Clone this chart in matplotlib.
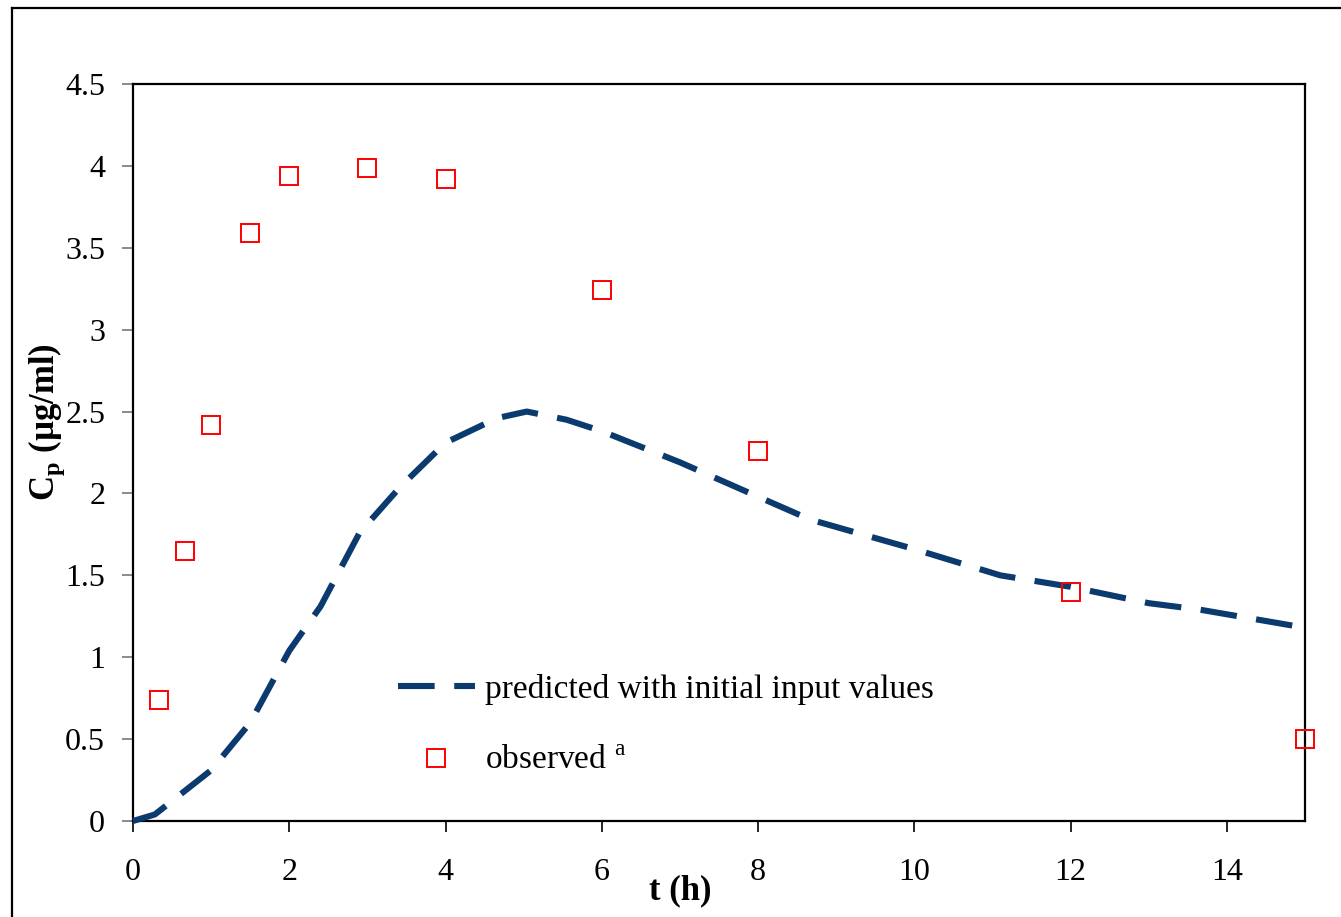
import matplotlib
matplotlib.use("Agg")
import matplotlib.pyplot as plt
from matplotlib.lines import Line2D

plt.rcParams['font.family'] = ['Liberation Serif', 'DejaVu Serif']
plt.rcParams['mathtext.fontset'] = 'custom'
plt.rcParams['mathtext.rm'] = 'Liberation Serif'
plt.rcParams['mathtext.bf'] = 'Liberation Serif:bold'

# predicted curve
t_pred = [0, 0.28, 1.0, 1.5, 2.0, 2.4, 2.9, 3.42, 4.0, 4.66, 5.04, 5.55, 6.0, 7.0, 8.0, 8.67, 10.0, 11.1, 12.0, 13.0, 13.66, 15.0]
cp_pred = [0.0, 0.04, 0.31, 0.60, 1.04, 1.31, 1.76, 2.04, 2.31, 2.46, 2.50, 2.45, 2.38, 2.19, 1.98, 1.84, 1.66, 1.50, 1.43, 1.33, 1.29, 1.18]

# observed data
t_obs = [0.33, 0.67, 1, 1.5, 2, 3, 4, 6, 8, 12, 15]
cp_obs = [0.74, 1.65, 2.42, 3.59, 3.94, 3.99, 3.92, 3.24, 2.26, 1.40, 0.50]

x_ticks = [0, 2, 4, 6, 8, 10, 12, 14]
y_ticks = [0, 0.5, 1, 1.5, 2, 2.5, 3, 3.5, 4, 4.5]
y_tick_labels = ['0', '0.5', '1', '1.5', '2', '2.5', '3', '3.5', '4', '4.5']

W, H = 1341, 917
fig = plt.figure(figsize=(W / 100, H / 100), dpi=100)
ax = fig.add_axes([133 / W, 1 - 821 / H, (1305 - 133) / W, (821 - 84) / H])

line_color = '#0B3A6E'
ax.plot(t_pred, cp_pred, color=line_color, lw=4.4, dashes=(6.0, 3.2),
        solid_capstyle='butt', dash_capstyle='butt',
        label='predicted with initial input values', clip_on=False, zorder=3)
ax.plot(t_obs, cp_obs, ls='none', marker='s', markersize=12.5, markerfacecolor='none',
        markeredgecolor='#FF0000', markeredgewidth=1.4, label='observed $^{\\rm a}$',
        clip_on=False, zorder=4)

ax.set_xlim(0, 15)
ax.set_ylim(0, 4.5)
ax.set_xticks(x_ticks)
ax.set_yticks(y_ticks)
ax.set_yticklabels(y_tick_labels)
ax.tick_params(axis='both', labelsize=23, direction='out')
ax.tick_params(axis='x', length=8, width=1.2, pad=19, color='black')
ax.tick_params(axis='y', length=8, width=1.2, pad=12, color='#777777')
for s in ax.spines.values():
    s.set_linewidth(1.6)
    s.set_color('black')

fig.text(47 / W, 1 - 422 / H, '$\\mathbf{C}_\\mathbf{p}$ (µg/ml)', rotation=90,
         ha='center', va='center', fontsize=25, fontweight='bold')
fig.text(680 / W, 1 - 891 / H, 't (h)', ha='center', va='center',
         fontsize=25, fontweight='bold')

leg = ax.legend(loc='upper left', bbox_to_anchor=(398 / W, 1 - 674 / H),
                bbox_transform=fig.transFigure, frameon=False, fontsize=24,
                handlelength=2.3, handletextpad=0.3, labelspacing=1.22,
                borderaxespad=0, borderpad=0)

# outer border
fig.add_artist(Line2D([12 / W, 12 / W], [0, 1 - 8 / H], color='black', lw=1.6,
                      transform=fig.transFigure))
fig.add_artist(Line2D([12 / W, 1], [1 - 8 / H, 1 - 8 / H], color='black', lw=1.6,
                      transform=fig.transFigure))

fig.savefig('out.png', dpi=100)
